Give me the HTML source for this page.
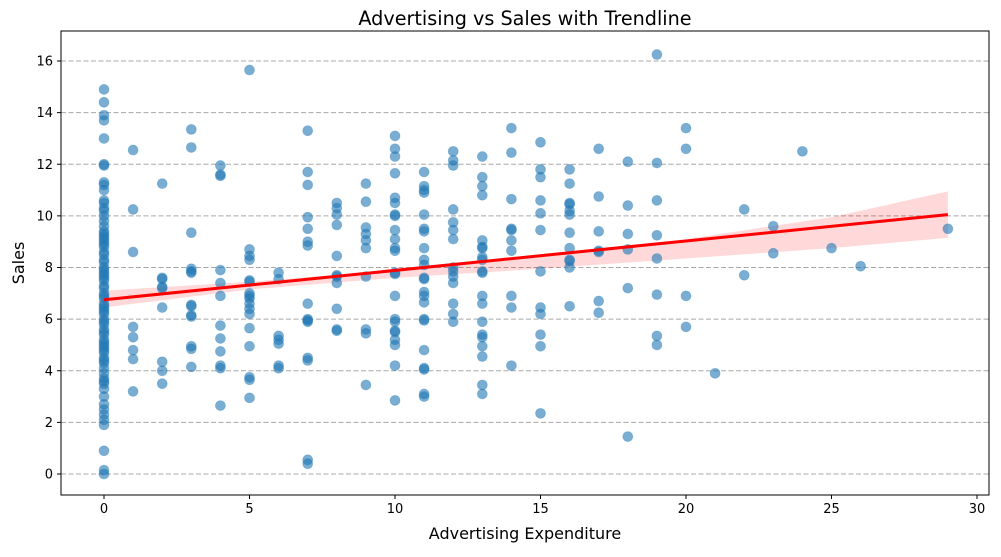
<!DOCTYPE html>
<html><head><meta charset="utf-8"><style>
body{margin:0;background:#fff;font-family:"Liberation Sans","DejaVu Sans",sans-serif;}
svg text{font-family:"DejaVu Sans","Liberation Sans",sans-serif;}
</style></head><body>
<svg id="chart" width="1001" height="552" xmlns="http://www.w3.org/2000/svg">
<text x="525" y="25" text-anchor="middle" font-size="19.2" fill="#000">Advertising vs Sales with Trendline</text>
<text x="525" y="539" text-anchor="middle" font-size="16" fill="#000">Advertising Expenditure</text>
<text x="24" y="263" text-anchor="middle" font-size="16" fill="#000" transform="rotate(-90 24 263)">Sales</text>
<g id="grid"></g><g id="band"></g><g id="pts"></g><g id="line"></g><g id="axes"></g>
</svg>
<script>
const xTicks=[0,5,10,15,20,25,30];
const yTicks=[0,2,4,6,8,10,12,14,16];
const groupX=[0,1,2,3,4,5,6,7,8,9,10,11,12,13,14,15,16,17,18,19,20,21,22,23,24,25,26,29];
const groupY=[
[14.9,14.4,13.9,13.7,13.0,12.0,11.95,11.3,11.2,11.0,10.6,10.5,10.3,10.2,10.0,9.8,9.6,9.4,9.3,9.2,9.1,9.0,8.9,8.8,8.6,8.5,8.3,8.2,8.0,7.9,7.8,7.7,7.6,7.5,7.3,7.2,7.0,6.9,6.8,6.6,6.5,6.4,6.3,6.2,6.0,5.9,5.8,5.6,5.5,5.4,5.2,5.1,5.0,4.9,4.8,4.7,4.5,4.4,4.3,4.1,3.9,3.7,3.6,3.5,3.3,3.0,2.7,2.5,2.3,2.1,1.9,0.9,0.15,0.0],
[12.55,10.25,8.6,5.7,5.3,4.8,4.45,3.2],
[11.25,7.6,7.55,7.25,7.2,6.45,4.35,4.0,3.5],
[13.35,12.65,9.35,7.95,7.85,7.8,6.55,6.5,6.15,6.1,4.95,4.85,4.15],
[11.95,11.6,11.55,7.9,7.4,6.9,5.75,5.25,4.75,4.2,4.1,2.65],
[15.65,8.7,8.45,8.3,7.5,7.45,7.0,6.9,6.8,6.6,6.4,6.2,5.65,4.95,3.75,3.65,2.95],
[7.8,7.55,5.35,5.2,5.05,4.2,4.1],
[13.3,11.7,11.2,9.95,9.5,9.0,8.85,6.6,6.0,5.9,5.95,4.5,4.4,0.55,0.4],
[10.5,10.3,10.05,9.65,8.45,7.7,7.65,7.4,6.4,5.6,5.55],
[11.25,10.55,9.55,9.3,9.05,8.75,7.65,5.6,5.45,3.45],
[13.1,12.6,12.3,11.65,10.7,10.5,10.05,10.0,9.45,9.1,8.75,8.65,7.8,7.75,6.9,6.0,5.9,5.55,5.5,5.2,5.0,4.2,2.85],
[11.7,11.15,11.0,10.9,10.05,9.5,9.4,8.75,8.3,8.1,7.6,7.55,7.05,6.9,6.65,6.0,5.95,4.8,4.1,4.05,3.1,3.0],
[12.5,12.15,11.95,10.25,9.75,9.45,9.1,8.0,7.85,7.65,7.4,6.6,6.2,5.9],
[12.3,11.5,11.15,10.8,9.05,8.8,8.75,8.4,8.3,7.85,7.8,6.9,6.6,5.9,5.3,5.4,4.95,4.55,3.45,3.1],
[13.4,12.45,10.65,9.5,9.45,9.05,8.65,6.9,6.45,4.2],
[12.85,11.8,11.5,10.6,10.1,9.45,7.85,6.45,6.2,5.4,4.95,2.35],
[11.8,11.25,10.5,10.45,10.2,10.05,9.35,8.75,8.3,8.25,8.0,6.5],
[12.6,10.75,9.4,8.65,8.6,6.7,6.25],
[12.1,10.4,9.3,8.7,7.2,1.45],
[16.25,12.05,10.6,9.25,8.35,6.95,5.35,5.0],
[13.4,12.6,6.9,5.7],
[3.9],[10.25,7.7],[9.6,8.55],[12.5],[8.75],[8.05],[9.5]];
const trendX=[0,29];
const trendY=[6.75,10.05];
const bandX=[0,5,10,15,20,25,29];
const bandLo=[6.45,7.15,7.6,7.95,8.35,8.75,9.15];
const bandHi=[7.1,7.45,7.9,8.5,9.1,9.95,10.95];

const L=61,R=989,T=31,B=495;
const sx=v=>104+v*(977-104)/30;
const sy=v=>474-v*(474-61)/16;
const NS="http://www.w3.org/2000/svg";
function mk(tag,attrs,parent){const e=document.createElementNS(NS,tag);for(const k in attrs)e.setAttribute(k,attrs[k]);parent.appendChild(e);return e;}
const grid=document.getElementById('grid'),axes=document.getElementById('axes');
yTicks.forEach(t=>{
 const g=mk('line',{x1:L,x2:R,y1:sy(t),y2:sy(t),stroke:'#a8a8a8','stroke-width':0.9,'stroke-dasharray':'5,2.5'},grid);
 
 
 const tk=mk('line',{x1:L-4,x2:L,y1:sy(t),y2:sy(t),stroke:'#000'},axes);
 
 
 const tx=mk('text',{x:L-8,y:sy(t)+4.5,'text-anchor':'end','font-size':13},axes);
 tx.textContent=t;
 
 
});
xTicks.forEach(t=>{
 const tk=mk('line',{x1:sx(t),x2:sx(t),y1:B,y2:B+4,stroke:'#000'},axes);
 
 
 const tx=mk('text',{x:sx(t),y:B+18,'text-anchor':'middle','font-size':13},axes);
 tx.textContent=t;
 
 
});
const fr=mk('rect',{x:L,y:T,width:R-L,height:B-T,fill:'none',stroke:'#000','stroke-width':1},axes);


let d='';
bandX.forEach((x,i)=>{d+=(i?'L':'M')+sx(x)+','+sy(bandHi[i]);});
for(let i=bandX.length-1;i>=0;i--)d+='L'+sx(bandX[i])+','+sy(bandLo[i]);
const band=mk('path',{d:d+'Z',fill:'#ff0000','fill-opacity':0.15},document.getElementById('band'));


const pts=document.getElementById('pts');
groupX.forEach((x,i)=>groupY[i].forEach(y=>{
 const c=mk('circle',{cx:sx(x),cy:sy(y),r:5,fill:'#1f77b4','fill-opacity':0.6,stroke:'#1f77b4','stroke-opacity':0.3,'stroke-width':0.8},pts);
 
 
}));
const tl=mk('line',{x1:sx(trendX[0]),y1:sy(trendY[0]),x2:sx(trendX[1]),y2:sy(trendY[1]),stroke:'#ff0000','stroke-width':3},document.getElementById('line'));


</script>
</body></html>
